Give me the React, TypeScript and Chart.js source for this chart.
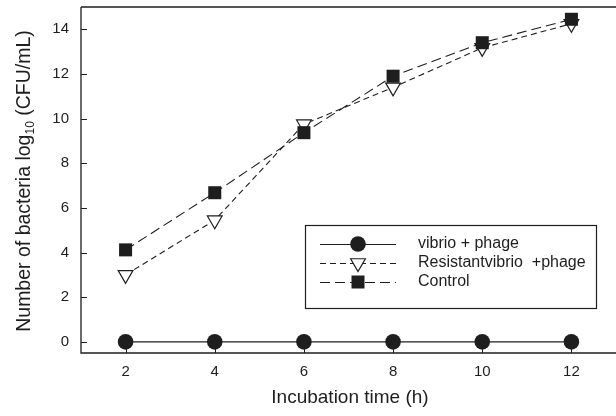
import React, { useEffect, useRef } from "react";
import { Chart, registerables } from "chart.js";

Chart.register(...registerables);

const hours = [2, 4, 6, 8, 10, 12];
const vibrioPhage = [0, 0, 0, 0, 0, 0];
const resistantVibrioPhage = [3.0, 5.45, 9.75, 11.4, 13.17, 14.25];
const control = [4.12, 6.68, 9.37, 11.9, 13.4, 14.45];
const xTicks = [2, 4, 6, 8, 10, 12];
const yTicks = [0, 2, 4, 6, 8, 10, 12, 14];
const seriesNames = ["vibrio + phage", "Resistantvibrio  +phage", "Control"];

const INK = "#1e1e1e";
const FONT = '"Liberation Sans", Arial, sans-serif';

function drawMarker(ctx: CanvasRenderingContext2D, kind: string, x: number, y: number) {
  ctx.save();
  ctx.setLineDash([]);
  ctx.lineWidth = 1.2;
  ctx.strokeStyle = INK;
  ctx.beginPath();
  if (kind === "circle") {
    ctx.fillStyle = INK;
    ctx.arc(x, y, 7.8, 0, Math.PI * 2);
    ctx.fill();
  } else if (kind === "rect") {
    ctx.fillStyle = INK;
    ctx.rect(x - 6.5, y - 6.5, 13, 13);
    ctx.fill();
  } else {
    const r = 8.5;
    ctx.fillStyle = "#fff";
    ctx.moveTo(x - r * 0.866, y - r * 0.5);
    ctx.lineTo(x + r * 0.866, y - r * 0.5);
    ctx.lineTo(x, y + r);
    ctx.closePath();
    ctx.fill();
    ctx.stroke();
  }
  ctx.restore();
}

const decorPlugin = {
  id: "decor",
  afterDraw(chart: any) {
    const ctx: CanvasRenderingContext2D = chart.ctx;
    const { left, right, top, bottom } = chart.chartArea;
    const xs = chart.scales.x;
    const ys = chart.scales.y;
    ctx.save();
    ctx.strokeStyle = INK;
    ctx.lineWidth = 1.3;
    ctx.setLineDash([]);
    ctx.beginPath();
    ctx.moveTo(left, top);
    ctx.lineTo(right, top);
    ctx.moveTo(left, top);
    ctx.lineTo(left, bottom);
    ctx.lineTo(right, bottom);
    ctx.stroke();
    ctx.lineWidth = 1;
    ctx.beginPath();
    for (const v of yTicks) {
      const py = Math.round(ys.getPixelForValue(v)) + 0.5;
      ctx.moveTo(left, py);
      ctx.lineTo(left + 6, py);
    }
    for (const v of xTicks) {
      const px = Math.round(xs.getPixelForValue(v)) + 0.5;
      ctx.moveTo(px, bottom);
      ctx.lineTo(px, bottom - 6);
    }
    ctx.stroke();

    ctx.fillStyle = INK;
    ctx.font = `19px ${FONT}`;
    ctx.textAlign = "center";
    ctx.textBaseline = "middle";
    ctx.fillText("Incubation time (h)", 350, 398);

    ctx.save();
    ctx.translate(25, 181);
    ctx.rotate(-Math.PI / 2);
    ctx.textAlign = "left";
    ctx.textBaseline = "middle";
    const big = `19.5px ${FONT}`;
    const small = `12px ${FONT}`;
    const p1 = "Number of bacteria log";
    const p2 = "10";
    const p3 = " (CFU/mL)";
    ctx.font = big;
    const w1 = ctx.measureText(p1).width;
    const w3 = ctx.measureText(p3).width;
    ctx.font = small;
    const w2 = ctx.measureText(p2).width;
    let sx = -(w1 + w2 + w3) / 2;
    ctx.font = big;
    ctx.fillText(p1, sx, 0);
    sx += w1;
    ctx.font = small;
    ctx.fillText(p2, sx, 6);
    sx += w2;
    ctx.font = big;
    ctx.fillText(p3, sx, 0);
    ctx.restore();

    const bx = 305, by = 225, bw = 291, bh = 83;
    ctx.lineWidth = 1.2;
    ctx.strokeStyle = INK;
    ctx.strokeRect(bx + 0.5, by + 0.5, bw, bh);
    const rows = [244, 263, 282];
    const dashes = [[], [6, 4], [10, 5]];
    const kinds = ["circle", "tri", "rect"];
    ctx.font = `16px ${FONT}`;
    ctx.textAlign = "left";
    ctx.textBaseline = "middle";
    rows.forEach((ry, i) => {
      ctx.save();
      ctx.lineWidth = 1.1;
      ctx.setLineDash(dashes[i]);
      ctx.beginPath();
      ctx.moveTo(320, ry + 0.5);
      ctx.lineTo(396, ry + 0.5);
      ctx.stroke();
      ctx.restore();
      drawMarker(ctx, kinds[i], 358, ry);
      ctx.fillStyle = INK;
      ctx.fillText(seriesNames[i], 418, ry);
    });
    ctx.restore();
  },
};

export default function App() {
  const ref = useRef<HTMLCanvasElement>(null);
  useEffect(() => {
    if (!ref.current) return;
    const mk = (ys: number[]) => hours.map((h, i) => ({ x: h, y: ys[i] }));
    const chart = new Chart(ref.current, {
      type: "line",
      data: {
        datasets: [
          {
            label: seriesNames[2],
            data: mk(control),
            borderColor: INK,
            backgroundColor: INK,
            borderWidth: 1.1,
            borderDash: [10, 5],
            pointStyle: "rect",
            pointRadius: 9.2,
            pointBorderWidth: 0,
            order: 0,
          },
          {
            label: seriesNames[1],
            data: mk(resistantVibrioPhage),
            borderColor: INK,
            backgroundColor: "#ffffff",
            borderWidth: 1.1,
            borderDash: [6, 4],
            pointStyle: "triangle",
            pointRotation: 180,
            pointRadius: 8.5,
            pointBorderWidth: 1.2,
            order: 1,
          },
          {
            label: seriesNames[0],
            data: mk(vibrioPhage),
            borderColor: INK,
            backgroundColor: INK,
            borderWidth: 1.2,
            pointStyle: "circle",
            pointRadius: 7.8,
            pointBorderWidth: 0,
            order: 2,
          },
        ],
      },
      options: {
        animation: false,
        responsive: false,
        maintainAspectRatio: false,
        layout: { autoPadding: false, padding: { top: 7, left: 0, right: 0, bottom: 0 } },
        plugins: { legend: { display: false }, tooltip: { enabled: false } },
        scales: {
          x: {
            type: "linear",
            min: 1,
            max: 13,
            afterBuildTicks: (axis: any) => {
              axis.ticks = xTicks.map((v) => ({ value: v }));
            },
            afterFit: (scale: any) => {
              scale.height = 63;
              scale.paddingLeft = 0;
              scale.paddingRight = 0;
            },
            grid: { display: false, drawTicks: false },
            border: { display: false },
            ticks: { color: INK, font: { family: FONT, size: 15 }, padding: 10, maxRotation: 0 },
          },
          y: {
            type: "linear",
            min: -0.5,
            max: 15,
            afterBuildTicks: (axis: any) => {
              axis.ticks = yTicks.map((v) => ({ value: v }));
            },
            afterFit: (scale: any) => {
              scale.width = 81;
              scale.paddingTop = 0;
              scale.paddingBottom = 0;
            },
            grid: { display: false, drawTicks: false },
            border: { display: false },
            ticks: { color: INK, font: { family: FONT, size: 15 }, padding: 12 },
          },
        },
      },
      plugins: [decorPlugin],
    });
    return () => chart.destroy();
  }, []);
  return (
    <div style={{ position: "fixed", left: 0, top: 0, width: 616, height: 416, background: "#fff" }}>
      <canvas ref={ref} width={616} height={416} style={{ width: 616, height: 416 }} />
    </div>
  );
}
